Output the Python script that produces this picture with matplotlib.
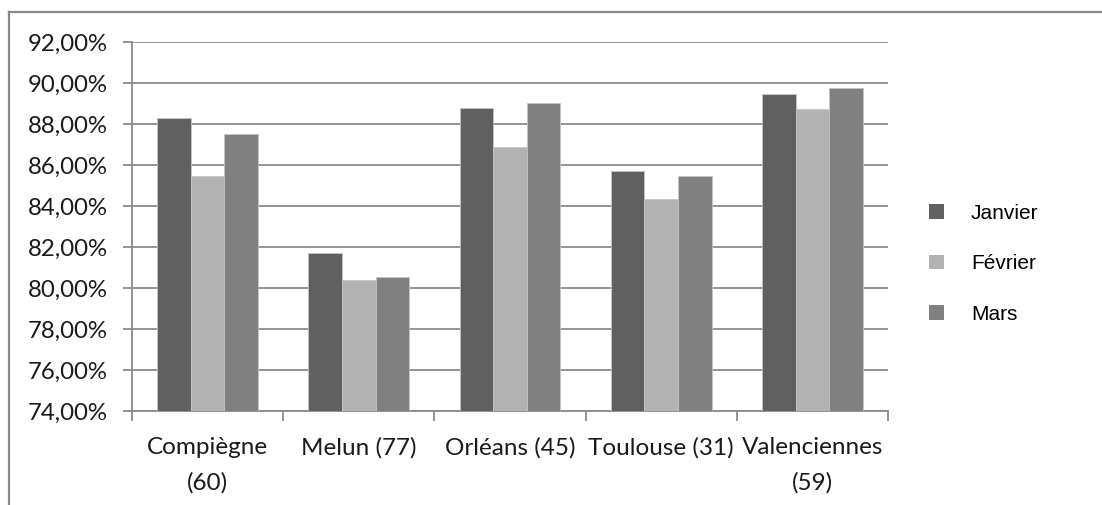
import matplotlib
matplotlib.use("Agg")
import matplotlib.pyplot as plt
import numpy as np
from matplotlib.patches import Patch
from matplotlib.ticker import FuncFormatter, FixedLocator

categories = ["Compiègne\n(60)", "Melun (77)", "Orléans (45)", "Toulouse (31)", "Valenciennes\n(59)"]
series_names = ["Janvier", "Février", "Mars"]
janvier = [88.27, 81.73, 88.76, 85.69, 89.46]
fevrier = [85.46, 80.41, 86.88, 84.32, 88.71]
mars = [87.51, 80.52, 89.02, 85.44, 89.76]
colors = ["#606060", "#b2b2b2", "#808080"]
yticks = [74, 76, 78, 80, 82, 84, 86, 88, 90, 92]

W, H = 1102, 505
fig = plt.figure(figsize=(W / 100, H / 100), dpi=100)
ax = fig.add_axes([132 / W, (H - 411) / H, (888 - 132) / W, (411 - 42) / H])

axis_col = "#8a8a8a"
x = np.arange(len(categories))
bw = 1 / 4.5
for i, (vals, c, name) in enumerate(zip([janvier, fevrier, mars], colors, series_names)):
    ax.bar(x + (i - 1) * bw, vals, width=bw, color=c, edgecolor="#c4c4c4",
           linewidth=0.6, label=name, zorder=3)

ax.set_ylim(74, 92)
ax.set_xlim(-0.5, len(categories) - 0.5)
ax.set_yticks(yticks)
ax.yaxis.set_major_formatter(FuncFormatter(lambda v, p: f"{v:.2f}%".replace(".", ",")))
ax.grid(axis="y", color=axis_col, linewidth=1.3, zorder=0)

ax.set_xticks(x)
ax.set_xticklabels(categories, fontfamily="Lato", fontsize=17.5, linespacing=1.8, color="#1a1a1a")
ax.xaxis.set_minor_locator(FixedLocator(np.arange(-0.5, len(categories), 1.0)))
ax.tick_params(axis="x", which="major", length=0, pad=19)
ax.tick_params(axis="x", which="minor", length=7.5, width=1.3, color=axis_col)
ax.tick_params(axis="y", length=6.5, width=1.3, color=axis_col, pad=11)
for lbl in ax.get_yticklabels():
    lbl.set_fontfamily("Lato")
    lbl.set_fontsize(17.3)
    lbl.set_color("#1a1a1a")

for s in ["top", "right"]:
    ax.spines[s].set_visible(False)
for s in ["left", "bottom"]:
    ax.spines[s].set_color(axis_col)
    ax.spines[s].set_linewidth(1.3)

handles = [Patch(facecolor=c, edgecolor="none") for c in colors]
fig.legend(handles, series_names, loc="upper left",
           bbox_to_anchor=(929 / W, 1 - 204 / H), frameon=False,
           prop={"family": "Liberation Sans", "size": 15},
           handlelength=0.72, handleheight=0.72, handletextpad=1.3,
           labelspacing=1.5, borderpad=0, borderaxespad=0)

# outer chart border (top and left)
fig.add_artist(plt.Line2D([9 / W, 1], [1 - 12 / H, 1 - 12 / H], color="#888888", linewidth=1.6, transform=fig.transFigure))
fig.add_artist(plt.Line2D([9 / W, 9 / W], [0, 1 - 12 / H], color="#888888", linewidth=1.6, transform=fig.transFigure))

fig.savefig("out.png", dpi=100)
